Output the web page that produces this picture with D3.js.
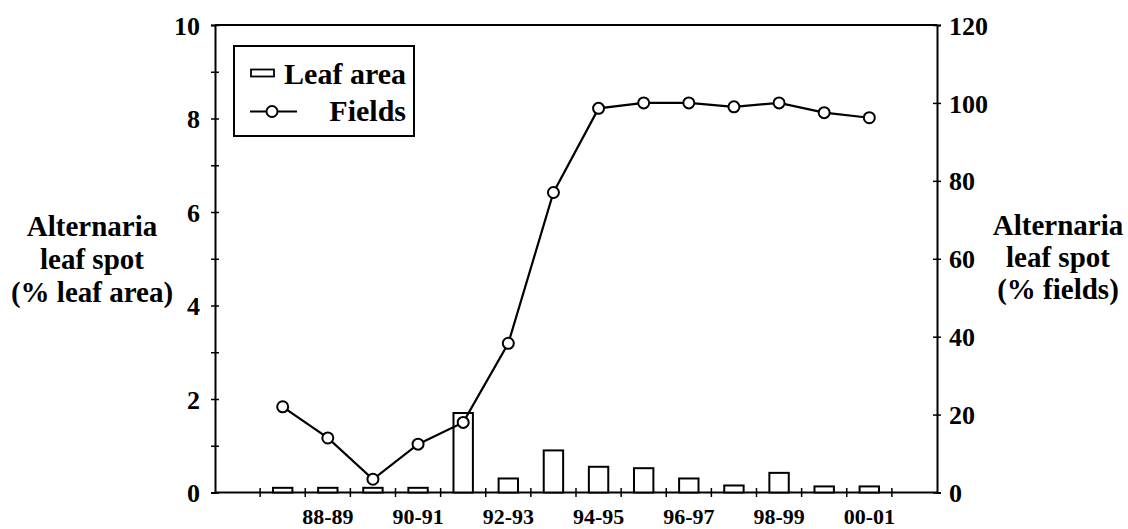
<!DOCTYPE html>
<html>
<head>
<meta charset="utf-8">
<script src="https://cdn.jsdelivr.net/npm/d3@7/dist/d3.min.js"></script>
</head>
<body style="margin:0">
<svg id="chart" width="1128" height="529"></svg>
<script>
// ---- data ----
const seasons = ["87-88","88-89","89-90","90-91","91-92","92-93","93-94","94-95","95-96","96-97","97-98","98-99","99-00","00-01"];
const leafArea = [0.1, 0.1, 0.1, 0.1, 1.7, 0.3, 0.9, 0.55, 0.52, 0.3, 0.15, 0.42, 0.13, 0.13];
const fields = [22, 14, 3.4, 12.4, 18, 38.3, 77, 98.6, 100, 100, 99, 100, 97.5, 96.2];
const xTickLabels = ["88-89","90-91","92-93","94-95","96-97","98-99","00-01"];
const leftTicks = [0,1,2,3,4,5,6,7,8,9,10];
const leftLabels = [0,2,4,6,8,10];
const rightTicks = [0,20,40,60,80,100,120];
const xDomain = ["86-87", ...seasons, "01-02"];

const FONT = '"Liberation Serif"';

// ---- layout ----
const L = 215, R = 937, T = 25, B = 492.5;
const svg = d3.select("#chart");
svg.append("rect").attr("width", 1128).attr("height", 529).attr("fill", "#fff");

function styleText(sel, size) {
  return sel.attr("font-family", FONT).attr("font-weight", "bold").attr("font-size", size)
    .attr("fill", "#000");
}

const x = d3.scaleBand().domain(xDomain).range([L, R]).padding(0);
const yL = d3.scaleLinear().domain([0, 10]).range([B, T]);
const yR = d3.scaleLinear().domain([0, 120]).range([B, T]);

// frame top line
svg.append("line").attr("x1", L).attr("x2", R).attr("y1", T).attr("y2", T)
  .attr("stroke", "#000").attr("stroke-width", 2);

// left axis
const gl = svg.append("g").attr("transform", `translate(${L},0)`)
  .call(d3.axisLeft(yL).tickValues(leftTicks).tickSizeOuter(0).tickSize(4).tickPadding(11)
    .tickFormat(d => leftLabels.includes(d) ? d : ""));
gl.attr("font-family", FONT).attr("font-size", 26).attr("font-weight", "bold");
gl.select(".domain").attr("stroke-width", 2);
gl.selectAll(".tick line").attr("x1", 4).attr("x2", -4).attr("stroke-width", 1.5);
styleText(gl.selectAll(".tick text"), 26).attr("dy", "0.35em");

// right axis
const gr = svg.append("g").attr("transform", `translate(${R},0)`)
  .call(d3.axisRight(yR).tickValues(rightTicks).tickSizeOuter(0).tickSize(4).tickPadding(8));
gr.attr("font-family", FONT).attr("font-size", 26).attr("font-weight", "bold");
gr.select(".domain").attr("stroke-width", 2);
gr.selectAll(".tick line").attr("x1", -4).attr("x2", 4).attr("stroke-width", 1.5);
styleText(gr.selectAll(".tick text"), 26).attr("dy", "0.35em");

// x axis line
svg.append("line").attr("x1", L).attr("x2", R).attr("y1", B).attr("y2", B)
  .attr("stroke", "#000").attr("stroke-width", 2);
// x ticks at band boundaries
const boundaries = xDomain.slice(1).map(d => x(d));
svg.append("g").selectAll("line").data(boundaries).join("line")
  .attr("x1", d => d).attr("x2", d => d).attr("y1", B - 4.5).attr("y2", B + 4.5)
  .attr("stroke", "#000").attr("stroke-width", 1.5);
// x labels
styleText(svg.append("g").selectAll("text").data(xTickLabels).join("text")
  .attr("x", d => x(d) + x.bandwidth() / 2).attr("y", 524)
  .attr("text-anchor", "middle").text(d => d), 22);

// bars
const bw = x.bandwidth() * 0.43;
svg.append("g").selectAll("rect").data(seasons).join("rect")
  .attr("x", (d) => x(d) + x.bandwidth() / 2 - bw / 2)
  .attr("width", bw)
  .attr("y", (d, i) => yL(leafArea[i]))
  .attr("height", (d, i) => B - yL(leafArea[i]))
  .attr("fill", "#fff").attr("stroke", "#000").attr("stroke-width", 2);

// line
const line = d3.line().x((d, i) => x(seasons[i]) + x.bandwidth() / 2).y(d => yR(d));
svg.append("path").datum(fields).attr("d", line)
  .attr("fill", "none").attr("stroke", "#000").attr("stroke-width", 2.2);
svg.append("g").selectAll("circle").data(fields).join("circle")
  .attr("cx", (d, i) => x(seasons[i]) + x.bandwidth() / 2)
  .attr("cy", d => yR(d)).attr("r", 5.5)
  .attr("fill", "#fff").attr("stroke", "#000").attr("stroke-width", 2);

// axis titles
function title(lines, cx, y0, dy) {
  const t = styleText(svg.append("text").attr("text-anchor", "middle"), 29);
  lines.forEach((s, i) => t.append("tspan").attr("x", cx).attr("y", y0 + i * dy).text(s));
}
title(["Alternaria", "leaf spot", "(% leaf area)"], 92, 236, 33);
title(["Alternaria", "leaf spot", "(% fields)"], 1058, 235, 32);

// legend
const lg = svg.append("g");
lg.append("rect").attr("x", 234).attr("y", 46).attr("width", 180).attr("height", 90)
  .attr("fill", "#fff").attr("stroke", "#000").attr("stroke-width", 2);
lg.append("rect").attr("x", 251).attr("y", 69.5).attr("width", 23).attr("height", 7)
  .attr("fill", "#fff").attr("stroke", "#000").attr("stroke-width", 1.8);
styleText(lg.append("text").attr("x", 406).attr("y", 84).attr("text-anchor", "end").text("Leaf area"), 30);
lg.append("line").attr("x1", 250).attr("x2", 297).attr("y1", 111.5).attr("y2", 111.5)
  .attr("stroke", "#000").attr("stroke-width", 2);
lg.append("circle").attr("cx", 272).attr("cy", 111.5).attr("r", 5.5)
  .attr("fill", "#fff").attr("stroke", "#000").attr("stroke-width", 2);
styleText(lg.append("text").attr("x", 406).attr("y", 121).attr("text-anchor", "end").text("Fields"), 30);
</script>
</body>
</html>
